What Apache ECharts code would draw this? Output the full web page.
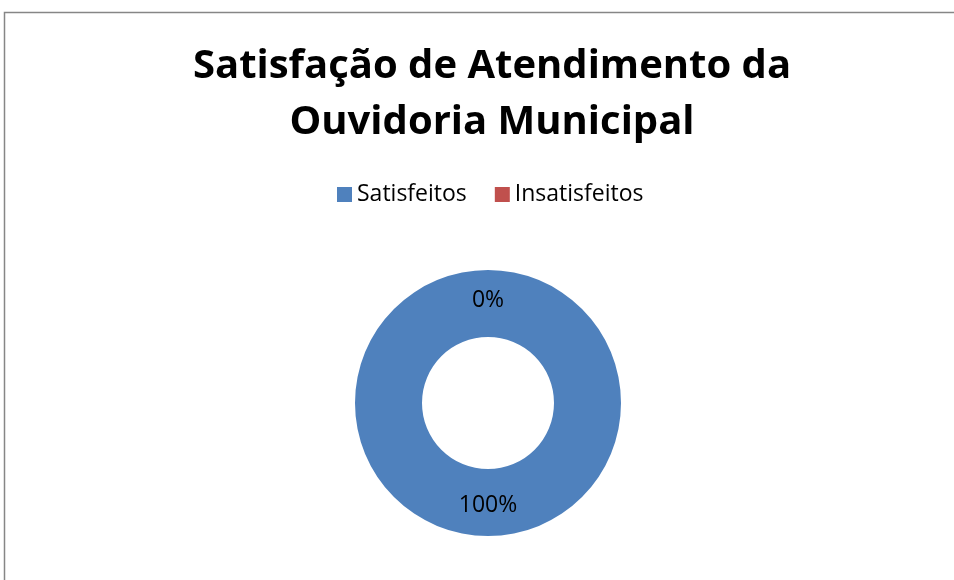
<!DOCTYPE html>
<html>
<head>
<meta charset="utf-8">
<script src="https://cdn.jsdelivr.net/npm/echarts@6/dist/echarts.min.js"></script>
<style>
  html, body { margin: 0; padding: 0; background: #fff; }
  #chart { width: 954px; height: 580px; }
</style>
</head>
<body>
<div id="chart"></div>
<script>
// dados do gráfico
const categorias = ["Satisfeitos", "Insatisfeitos"];
const valores = [100, 0];
const cores = ["#4F81BD", "#C0504D"];

const chart = echarts.init(document.getElementById("chart"));

const option = {
  backgroundColor: "#fff",
  title: {
    text: "Satisfação de Atendimento da\nOuvidoria Municipal",
    left: 487,
    top: 34,
    textAlign: "center",
    textStyle: {
      fontFamily: "Open Sans",
      fontWeight: "bold",
      fontSize: 40,
      lineHeight: 56,
      color: "#000",
    },
  },
  legend: {
    data: categorias,
    left: 337,
    top: 183,
    padding: 0,
    icon: "rect",
    itemWidth: 15,
    itemHeight: 15,
    itemGap: 28,
    textStyle: {
      fontFamily: "Open Sans",
      fontSize: 23,
      color: "#000",
    },
  },
  // moldura da área do gráfico
  graphic: [
    {
      type: "rect",
      silent: true,
      shape: { x: 4.5, y: 12.5, width: 970, height: 600 },
      style: { fill: "none", stroke: "#868686", lineWidth: 1.5 },
    },
  ],
  series: [
    {
      type: "pie",
      center: [488, 403],
      radius: [66, 133],
      startAngle: 90,
      clockwise: true,
      avoidLabelOverlap: false,
      silent: true,
      label: {
        show: true,
        position: "inside",
        formatter: "{d}%",
        fontFamily: "Open Sans",
        fontSize: 23,
        color: "#000",
      },
      labelLine: { show: false },
      data: categorias.map((nome, i) => ({
        name: nome,
        value: valores[i],
        itemStyle: { color: cores[i] },
      })),
    },
  ],
};

chart.setOption(option);
</script>
</body>
</html>
